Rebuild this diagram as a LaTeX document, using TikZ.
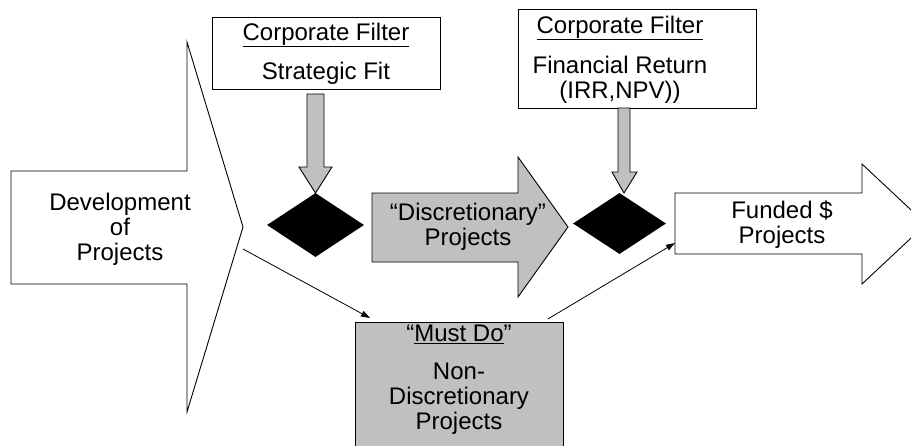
\documentclass[tikz,border=0pt]{standalone}
\usepackage{fontspec}
\setmainfont{Liberation Sans}
\usetikzlibrary{arrows.meta,shapes.geometric}
\definecolor{panelgray}{HTML}{C0C0C0}
\begin{document}
\begin{tikzpicture}[x=1pt,y=-1pt,
  outline/.style={draw=black,line width=0.9pt,line join=miter},
  label/.style={font=\fontsize{24}{25}\selectfont,inner sep=0pt,align=center,text=black},
  box/.style={outline,fill=white,inner sep=0pt,anchor=north west},
  graybox/.style={box,fill=panelgray},
  gate/.style={diamond,fill=black,inner sep=0pt},
  flow/.style={line width=0.8pt,-{Triangle[length=9pt,width=6pt]}},
  chute/.style={outline,fill=panelgray},
  bigarrow/.style={outline,fill=white}]
\useasboundingbox (0,0) rectangle (911,445);
\clip (0,0) rectangle (911,445);

% large input arrow
\draw[bigarrow] (11,171) -- (187,171) -- (187,42) -- (243,227) -- (187,412)
  -- (187,284) -- (11,284) -- cycle;
\node[label] (dev) at (120,229) {Development\\of\\Projects};
\coordinate (devout) at (243,249);

% filter boxes
\node[box,minimum width=228pt,minimum height=72pt] (fit) at (212,17) {};
\node[label] (fithead) at (326,35) {\underline{Corporate Filter}};
\node[label] (fittext) at (326,73) {Strategic Fit};

\node[box,minimum width=238pt,minimum height=99pt] (fin) at (518,9) {};
\node[label] (finhead) at (620,28) {\underline{Corporate Filter}};
\node[label] (fintext) at (620,80) {Financial Return\\(IRR,NPV))};

% gray drop arrows from the filters
\draw[chute] (307,94) -- (324,94) -- (324,167) -- (332,167) -- (315.5,193)
  -- (299,167) -- (307,167) -- cycle;
\draw[chute] (618,108) -- (630,108) -- (630,172) -- (637,172) -- (624,193)
  -- (612,172) -- (618,172) -- cycle;

% decision gates
\node[gate,minimum width=97pt,minimum height=64pt] (g1) at (315.5,225) {};
\node[gate,minimum width=93pt,minimum height=61pt] (g2) at (619.5,223.5) {};

% discretionary arrow
\draw[chute] (372,193) -- (518,193) -- (518,157) -- (568,227) -- (518,297)
  -- (518,262) -- (372,262) -- cycle;
\node[label] (disc) at (468,226.5) {``Discretionary''\\Projects};

% funded arrow
\draw[bigarrow] (675,193) -- (862,193) -- (862,164) -- (926,224) -- (862,284)
  -- (862,254) -- (675,254) -- cycle;
\node[label] (funded) at (782,225) {Funded \$\\Projects};
\coordinate (fundedsw) at (675,254);

% must-do box
\node[graybox,minimum width=208pt,minimum height=160pt] (must) at (355,322) {};
\node[label] (musthead) at (459,334) {``\underline{Must Do}''};
\node[label] (musttext) at (459,399) {Non-\\Discretionary\\Projects};

% connectors
\draw[flow] (devout) -- ([xshift=15pt,yshift=4pt]must.north west);
\draw[flow] ([xshift=-16pt,yshift=3pt]must.north east) -- ([yshift=11pt]fundedsw);
\end{tikzpicture}
\end{document}
